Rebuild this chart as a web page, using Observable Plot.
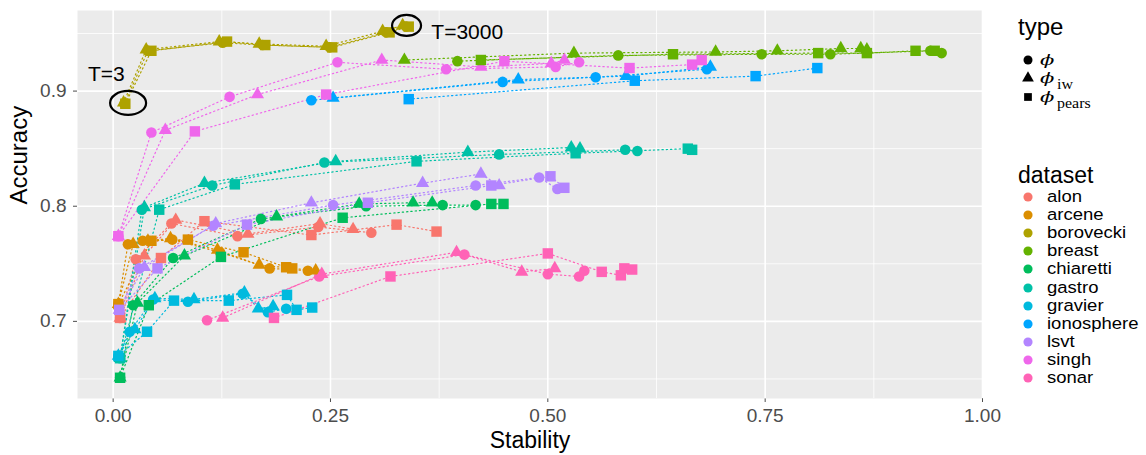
<!DOCTYPE html>
<html><head><meta charset="utf-8">
<script src="https://cdn.jsdelivr.net/npm/d3@7"></script>
<script src="https://cdn.jsdelivr.net/npm/@observablehq/plot@0.6"></script>
<style>
body{margin:0;background:#fff;}
#wrap{position:relative;width:1146px;height:455px;font-family:"Liberation Sans",Arial,Helvetica,sans-serif;}
.lg{position:absolute;white-space:nowrap;color:#000;transform-origin:0 50%;}
</style></head><body><div id="wrap"></div>
<script>
const datasets = ["alon","arcene","borovecki","breast","chiaretti","gastro","gravier","ionosphere","lsvt","singh","sonar"];
const palette = ["#F8766D","#DB8E00","#AEA200","#64B200","#00BD5C","#00C1A7","#00BADE","#00A6FF","#B385FF","#EF67EB","#FF63B6"];
const types = ["phi","phi_iw","phi_pears"];
const typeSub = ["","iw","pears"];
const xTicks = [0,0.25,0.5,0.75,1];
const xMinor = [0.125,0.375,0.625,0.875];
const yTicks = [0.7,0.8,0.9];
const yMinor = [0.65,0.75,0.85,0.95];

// [stability, accuracy] per dataset and type, ordered by T
const alonPhi = [[0.008,0.703],[0.026,0.754],[0.067,0.785],[0.143,0.774],[0.236,0.782],[0.297,0.777]];
const alonIw = [[0.008,0.703],[0.036,0.757],[0.072,0.788],[0.155,0.776],[0.238,0.785],[0.276,0.780]];
const alonPears = [[0.008,0.703],[0.055,0.755],[0.105,0.787],[0.228,0.775],[0.326,0.784],[0.372,0.778]];
const arcenePhi = [[0.006,0.715],[0.017,0.767],[0.034,0.770],[0.068,0.771],[0.123,0.760],[0.180,0.746],[0.224,0.744]];
const arceneIw = [[0.006,0.715],[0.023,0.767],[0.040,0.770],[0.066,0.772],[0.120,0.762],[0.168,0.749],[0.233,0.744]];
const arcenePears = [[0.006,0.715],[0.044,0.770],[0.086,0.771],[0.150,0.760],[0.199,0.747],[0.206,0.746]];
const boroveckiPhi = [[0.013,0.889],[0.040,0.935],[0.126,0.942],[0.172,0.940],[0.249,0.938],[0.314,0.951],[0.337,0.956]];
const boroveckiIw = [[0.012,0.890],[0.038,0.936],[0.122,0.943],[0.168,0.941],[0.245,0.939],[0.310,0.952],[0.333,0.957]];
const boroveckiPears = [[0.014,0.889],[0.044,0.935],[0.131,0.943],[0.175,0.940],[0.252,0.938],[0.318,0.951],[0.340,0.956]];
const breastPhi = [[0.396,0.926],[0.581,0.931],[0.746,0.932],[0.825,0.932],[0.940,0.935],[0.953,0.933]];
const breastIw = [[0.335,0.927],[0.530,0.933],[0.693,0.934],[0.764,0.935],[0.837,0.937],[0.860,0.937],[0.867,0.936]];
const breastPears = [[0.423,0.927],[0.644,0.932],[0.811,0.933],[0.867,0.933],[0.923,0.935],[0.945,0.935]];
const chiarettiPhi = [[0.008,0.651],[0.023,0.714],[0.069,0.755],[0.170,0.789],[0.291,0.800],[0.379,0.801],[0.417,0.801]];
const chiarettiIw = [[0.008,0.651],[0.028,0.716],[0.082,0.757],[0.188,0.791],[0.283,0.802],[0.345,0.803],[0.367,0.803]];
const chiarettiPears = [[0.008,0.651],[0.041,0.714],[0.124,0.756],[0.264,0.790],[0.435,0.802],[0.449,0.802]];
const gastroPhi = [[0.008,0.668],[0.033,0.797],[0.114,0.818],[0.243,0.838],[0.444,0.845],[0.589,0.849],[0.603,0.848]];
const gastroIw = [[0.008,0.668],[0.036,0.799],[0.105,0.820],[0.256,0.839],[0.408,0.847],[0.527,0.851],[0.537,0.850]];
const gastroPears = [[0.008,0.668],[0.053,0.797],[0.140,0.819],[0.349,0.839],[0.532,0.846],[0.661,0.850],[0.666,0.849]];
const gravierPhi = [[0.006,0.670],[0.019,0.691],[0.046,0.719],[0.086,0.717],[0.149,0.724],[0.178,0.708],[0.199,0.711]];
const gravierIw = [[0.006,0.670],[0.025,0.693],[0.048,0.720],[0.093,0.719],[0.151,0.725],[0.167,0.711],[0.184,0.713]];
const gravierPears = [[0.006,0.670],[0.039,0.691],[0.070,0.718],[0.133,0.718],[0.200,0.723],[0.211,0.710],[0.229,0.712]];
const ionospherePhi = [[0.228,0.892],[0.448,0.908],[0.555,0.912],[0.683,0.919]];
const ionosphereIw = [[0.253,0.894],[0.466,0.910],[0.590,0.913],[0.687,0.921]];
const ionospherePears = [[0.340,0.893],[0.600,0.909],[0.739,0.913],[0.810,0.920]];
const lsvtPhi = [[0.007,0.710],[0.030,0.746],[0.115,0.783],[0.253,0.801],[0.417,0.818],[0.490,0.825],[0.511,0.815]];
const lsvtIw = [[0.007,0.710],[0.036,0.747],[0.118,0.785],[0.228,0.803],[0.356,0.820],[0.423,0.828],[0.444,0.818]];
const lsvtPears = [[0.007,0.710],[0.051,0.746],[0.154,0.784],[0.293,0.803],[0.435,0.818],[0.503,0.826],[0.519,0.816]];
const singhPhi = [[0.006,0.774],[0.044,0.864],[0.134,0.895],[0.258,0.925],[0.383,0.919],[0.509,0.921],[0.536,0.925]];
const singhIw = [[0.006,0.774],[0.060,0.866],[0.166,0.897],[0.309,0.927],[0.423,0.921],[0.504,0.924],[0.519,0.927]];
const singhPears = [[0.006,0.774],[0.094,0.865],[0.245,0.897],[0.450,0.926],[0.594,0.920],[0.666,0.923],[0.677,0.927]];
const sonarPhi = [[0.108,0.701],[0.237,0.739],[0.404,0.758],[0.500,0.741],[0.536,0.739],[0.542,0.744]];
const sonarIw = [[0.126,0.703],[0.240,0.741],[0.395,0.760],[0.470,0.743],[0.508,0.746]];
const sonarPears = [[0.185,0.703],[0.319,0.739],[0.500,0.759],[0.562,0.743],[0.584,0.740],[0.588,0.746],[0.597,0.745]];

// annotations
const noteLabels = ["T=3","T=3000"];
const noteX = [-0.029, 0.366];
const noteY = [0.9147, 0.951];
const ringX = [0.0172, 0.3375];
const ringY = [0.8897, 0.957];

const series = [
  ["alon",alonPhi,alonIw,alonPears],["arcene",arcenePhi,arceneIw,arcenePears],
  ["borovecki",boroveckiPhi,boroveckiIw,boroveckiPears],["breast",breastPhi,breastIw,breastPears],
  ["chiaretti",chiarettiPhi,chiarettiIw,chiarettiPears],["gastro",gastroPhi,gastroIw,gastroPears],
  ["gravier",gravierPhi,gravierIw,gravierPears],["ionosphere",ionospherePhi,ionosphereIw,ionospherePears],
  ["lsvt",lsvtPhi,lsvtIw,lsvtPears],["singh",singhPhi,singhIw,singhPears],["sonar",sonarPhi,sonarIw,sonarPears]
];
const rows = [];
series.forEach(([dataset, ...arrs]) => arrs.forEach((pts, ti) => pts.forEach(([x,y],i) => rows.push({dataset, type: types[ti], x, y, i}))));

const ellipse = (rx, ry) => ({draw(c){
  const k = 0.5523;
  c.moveTo(rx,0);
  c.bezierCurveTo(rx, ry*k, rx*k, ry, 0, ry);
  c.bezierCurveTo(-rx*k, ry, -rx, ry*k, -rx, 0);
  c.bezierCurveTo(-rx, -ry*k, -rx*k, -ry, 0, -ry);
  c.bezierCurveTo(rx*k, -ry, rx, -ry*k, rx, 0);
  c.closePath();
}});
const notes = noteLabels.map((t,i)=>({t, x:noteX[i], y:noteY[i], rx:ringX[i], ry:ringY[i]}));
const font = '"Liberation Sans",Arial,Helvetica,sans-serif';

const plot = Plot.plot({
  width:1146, height:455, marginLeft:77, marginRight:164, marginTop:10, marginBottom:57,
  style:{fontFamily:font, fontSize:"19px", color:"#4D4D4D", background:"transparent", overflow:"visible"},
  x:{domain:[-0.041,1.0], ticks:xTicks, tickFormat:d3.format(".2f"), tickSize:4, tickPadding:6, label:null},
  y:{domain:[0.633,0.970], ticks:yTicks, tickFormat:d3.format(".1f"), tickSize:4, tickPadding:7, label:null},
  color:{domain:datasets, range:palette},
  marks:[
    Plot.frame({fill:"#EBEBEB", stroke:null}),
    Plot.ruleX(xMinor,{stroke:"white", strokeWidth:0.8}),
    Plot.ruleY(yMinor,{stroke:"white", strokeWidth:0.8}),
    Plot.ruleX(xTicks,{stroke:"white", strokeWidth:1.6}),
    Plot.ruleY(yTicks,{stroke:"white", strokeWidth:1.6}),
    Plot.line(rows,{x:"x", y:"y", z:d=>d.dataset+"|"+d.type, stroke:"dataset", strokeWidth:1.2, strokeDasharray:"1.3,3"}),
    Plot.dot(rows.filter(d=>d.type==="phi"),{x:"x", y:"y", fill:"dataset", r:5.3, symbol:"circle"}),
    Plot.dot(rows.filter(d=>d.type==="phi_iw"),{x:"x", y:"y", fill:"dataset", r:4.9, symbol:"triangle"}),
    Plot.dot(rows.filter(d=>d.type==="phi_pears"),{x:"x", y:"y", fill:"dataset", r:5.9, symbol:"square"}),
    Plot.dot(notes.slice(0,1),{x:"rx", y:"ry", symbol:ellipse(18,12), stroke:"black", strokeWidth:2.2, fill:"none"}),
    Plot.dot(notes.slice(1),{x:"rx", y:"ry", symbol:ellipse(14.5,10.5), stroke:"black", strokeWidth:2.2, fill:"none"}),
    Plot.text(notes,{x:"x", y:"y", text:"t", textAnchor:"start", fontSize:21, fill:"black"}),
    Plot.text(["Stability"],{frameAnchor:"bottom", dy:49, fontSize:23, fill:"black"}),
    Plot.text(["Accuracy"],{frameAnchor:"left", dx:-58, rotate:-90, fontSize:24, fill:"black"})
  ]
});
const wrap = document.getElementById("wrap");
wrap.appendChild(plot);

// legends
function addDiv(html, left, yc, size, lh, sy){
  const d = document.createElement("div");
  d.className = "lg";
  d.style.left = left+"px";
  d.style.top = (yc - lh/2)+"px";
  d.style.fontSize = size+"px";
  d.style.lineHeight = lh+"px";
  d.style.height = lh+"px";
  if (sy) d.style.transform = `scaleY(${sy})`;
  d.innerHTML = html;
  wrap.appendChild(d);
  return d;
}
function addKey(sym, cx, cy, size, color){
  const s = d3.create("svg").attr("width",20).attr("height",20)
    .style("position","absolute").style("left",(cx-10)+"px").style("top",(cy-10)+"px");
  s.append("path").attr("transform","translate(10,10)").attr("d", d3.symbol(sym, size)()).attr("fill", color);
  wrap.appendChild(s.node());
}
addDiv("type", 1018, 27, 24, 28);
const typeSyms = [d3.symbolCircle, d3.symbolTriangle, d3.symbolSquare];
const typeSizes = [64, 60, 60];
const typeY = [60, 78, 97];
types.forEach((t,i)=>{
  addKey(typeSyms[i], 1028, typeY[i], typeSizes[i], "#000");
  addDiv(`<span style="font-family:'DejaVu Serif',serif;font-style:italic">ϕ</span>`, 1040, typeY[i], 21, 22, 0.7);
  if (typeSub[i]) addDiv(`<span style="font-family:'Liberation Serif','DejaVu Serif',serif">${typeSub[i]}</span>`, 1057, typeY[i] + 6, 16, 18, 0.95);
});
addDiv("dataset", 1018, 175, 23, 28);
datasets.forEach((d,i)=>{
  const cy = 197 + i*18.1;
  addKey(d3.symbolCircle, 1028, cy, 66, palette[i]);
  addDiv(d, 1047, cy, 18.5, 18, 0.86);
});
</script></body></html>
